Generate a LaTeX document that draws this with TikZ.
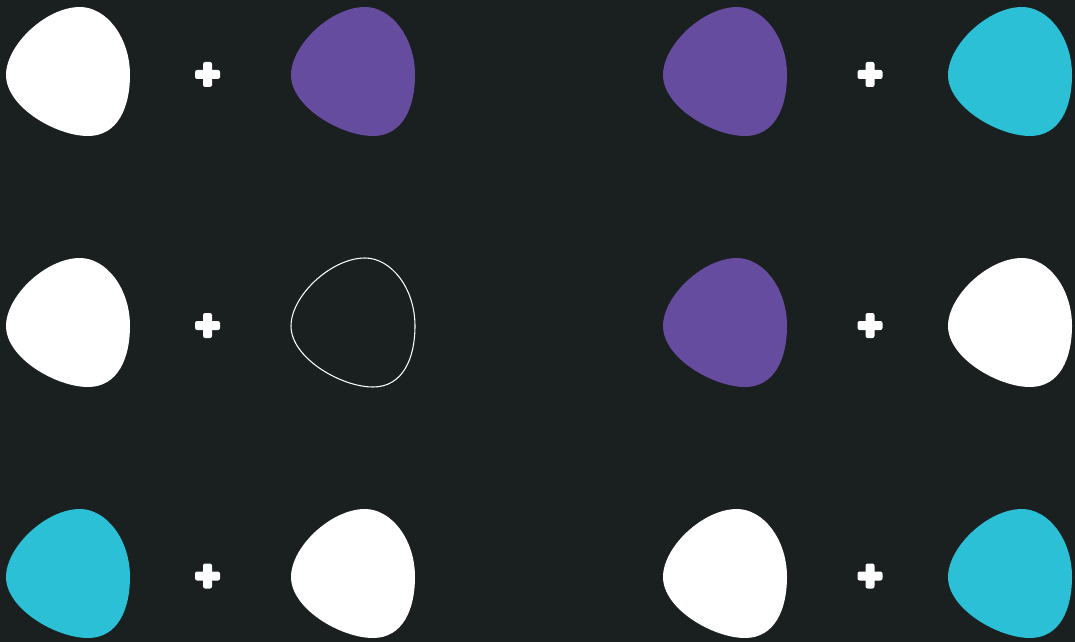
\documentclass[tikz,border=0pt]{standalone}
\usepackage{tikz}
\usetikzlibrary{positioning}
\definecolor{bgdark}{RGB}{26,31,32}
\definecolor{blobpurple}{RGB}{101,76,158}
\definecolor{blobcyan}{RGB}{43,192,214}

\begin{document}
\begin{tikzpicture}[
  x=0.02cm, y=-0.02cm,
  blob/.pic={\path[pic actions] (0,68) .. controls (0,38) and (40,0) .. (74,0)
      .. controls (100,0) and (124,30) .. (124,68)
      .. controls (124,100) and (112,129) .. (82,129)
      .. controls (50,129) and (0,100) .. (0,68) -- cycle;},
  plussign/.pic={\fill[white,rounded corners=1.2] (-12.5,-4.5) rectangle (12.5,4.5);
      \fill[white,rounded corners=1.2] (-4.5,-12.5) rectangle (4.5,12.5);},
  white blob/.style={fill=white},
  purple blob/.style={fill=blobpurple},
  cyan blob/.style={fill=blobcyan},
  empty blob/.style={draw=white,line width=0.6pt}
]
\fill[bgdark] (0,0) rectangle (1075,642);
% row 1
\pic[white blob]  (a1) at (6,7)   {blob};
\pic              (p1) at (207.5,74.5) {plussign};
\pic[purple blob] (b1) at (291,7) {blob};
\pic[purple blob] (c1) at (663,7) {blob};
\pic              (q1) at (870,74.5) {plussign};
\pic[cyan blob]   (d1) at (948,7) {blob};
% row 2
\pic[white blob]  (a2) at (6,258)   {blob};
\pic              (p2) at (207.5,325.5) {plussign};
\pic[empty blob]  (b2) at (291,258) {blob};
\pic[purple blob] (c2) at (663,258) {blob};
\pic              (q2) at (870,325.5) {plussign};
\pic[white blob]  (d2) at (948,258) {blob};
% row 3
\pic[cyan blob]   (a3) at (6,509)   {blob};
\pic              (p3) at (207.5,576) {plussign};
\pic[white blob]  (b3) at (291,509) {blob};
\pic[white blob]  (c3) at (663,509) {blob};
\pic              (q3) at (870,576) {plussign};
\pic[cyan blob]   (d3) at (948,509) {blob};
\end{tikzpicture}
\end{document}
